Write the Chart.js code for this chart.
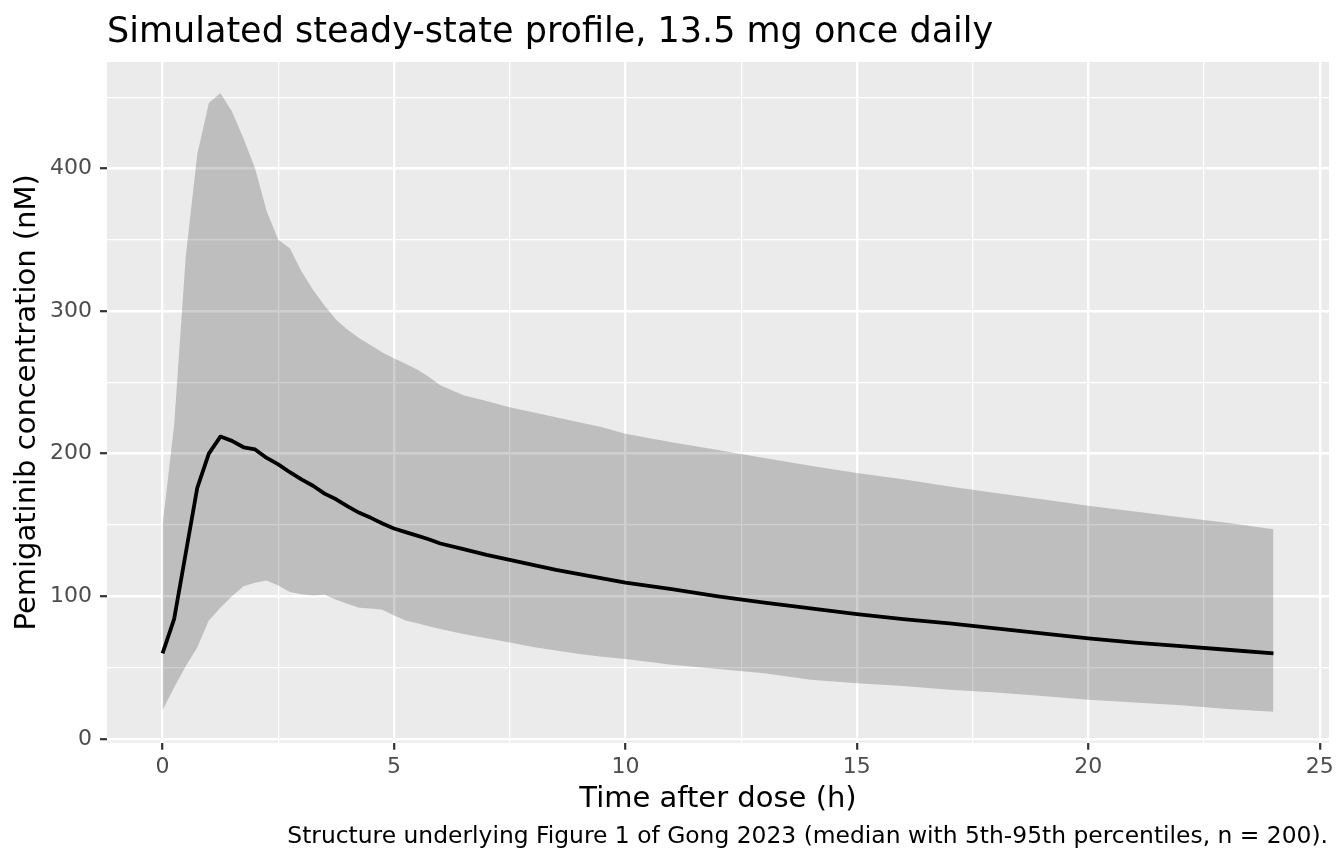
<!DOCTYPE html>
<html>
<head>
<meta charset="utf-8">
<script src="https://cdn.jsdelivr.net/npm/chart.js@4.4.1/dist/chart.umd.min.js"></script>
<style>
  html, body { margin: 0; padding: 0; background: #fff; }
  #wrap { width: 1344px; height: 864px; }
</style>
</head>
<body>
<div id="wrap"><canvas id="pkChart" width="1344" height="864"></canvas></div>
<script>
// time after dose (h)
const timeH = [0, 0.25, 0.5, 0.75, 1, 1.25, 1.5, 1.75, 2, 2.25, 2.5, 2.75, 3, 3.25, 3.5, 3.75,
  4, 4.25, 4.5, 4.75, 5, 5.25, 5.5, 5.75, 6, 6.5, 7, 7.5, 8, 8.5, 9, 9.5, 10,
  11, 12, 13, 14, 15, 16, 17, 18, 19, 20, 21, 22, 23, 24];

// concentration, nM
const median = [60, 84, 130, 176, 200, 212, 209, 204.5, 203, 197, 192.5, 187, 182, 177.5, 172, 168,
  163, 158.5, 155, 151, 147.5, 145, 142.5, 140, 137, 133, 129, 125.5, 122, 118.5, 115.5, 112.5, 109.5,
  105, 100, 95.5, 91.5, 87.5, 84, 81, 77.5, 74, 70.5, 67.5, 65, 62.5, 60];

const p05 = [20, 36, 51, 64, 83, 92, 100, 107, 109.5, 111, 107.5, 103, 101.5, 100.5, 101, 97.5,
  94.5, 92, 91.5, 90.5, 86.5, 83, 81, 79, 77, 73.5, 70.5, 67.5, 64.5, 62, 59.5, 57.5, 56,
  52, 49, 46, 41.5, 39, 37, 34.5, 32.5, 30, 27.5, 25.5, 23.5, 21, 19];

const p95 = [150, 220, 338, 410, 446, 453, 440, 421, 400, 370, 350, 344, 328, 315, 304, 294,
  287, 281, 276, 271, 267, 263, 259, 254, 248, 241, 237, 232.5, 229, 225.5, 222, 218.5, 214,
  208, 202.5, 197, 191.5, 186.5, 182, 177, 172.5, 168, 163.5, 159.5, 155.5, 151.5, 147];

const xTickValues = [0, 2.5, 5, 7.5, 10, 12.5, 15, 17.5, 20, 22.5, 25];
const xTickLabels = ['0', '', '5', '', '10', '', '15', '', '20', '', '25'];
const yTickValues = [0, 50, 100, 150, 200, 250, 300, 350, 400, 450];
const yTickLabels = ['0', '', '100', '', '200', '', '300', '', '400', ''];

const FONT = '"DejaVu Sans", "Noto Sans", sans-serif';

const toPoints = arr => arr.map((v, i) => ({ x: timeH[i], y: v }));

const panelBg = {
  id: 'panelBg',
  beforeDraw(chart) {
    const { ctx, chartArea: a } = chart;
    ctx.save();
    ctx.fillStyle = '#EBEBEB';
    ctx.fillRect(a.left, a.top, a.right - a.left, a.bottom - a.top);
    ctx.restore();
  },
};

const plotText = {
  id: 'plotText',
  afterDraw(chart) {
    const { ctx, chartArea: a } = chart;
    ctx.save();
    ctx.fillStyle = '#000';
    ctx.textBaseline = 'alphabetic';

    ctx.font = '35px ' + FONT;
    ctx.textAlign = 'left';
    ctx.fillText('Simulated steady-state profile, 13.5 mg once daily', a.left, 42);

    ctx.font = '29px ' + FONT;
    ctx.textAlign = 'center';
    ctx.fillText('Time after dose (h)', (a.left + a.right) / 2, 807);

    ctx.font = '23.4px ' + FONT;
    ctx.textAlign = 'right';
    ctx.fillText('Structure underlying Figure 1 of Gong 2023 (median with 5th-95th percentiles, n = 200).', 1328, 843);

    ctx.translate(35, (a.top + a.bottom) / 2);
    ctx.rotate(-Math.PI / 2);
    ctx.font = '29px ' + FONT;
    ctx.textAlign = 'center';
    ctx.fillText('Pemigatinib concentration (nM)', 0, 0);
    ctx.restore();
  },
};

const isMajorX = c => xTickLabels[c.index] !== '';
const isMajorY = c => yTickLabels[c.index] !== '';

new Chart(document.getElementById('pkChart'), {
  type: 'line',
  data: {
    datasets: [
      {
        label: '95th percentile',
        data: toPoints(p95),
        borderColor: 'rgba(0,0,0,0)',
        borderWidth: 0,
        backgroundColor: 'rgba(0,0,0,0.19)',
        fill: 1,
        pointRadius: 0,
        tension: 0,
      },
      {
        label: '5th percentile',
        data: toPoints(p05),
        borderColor: 'rgba(0,0,0,0)',
        borderWidth: 0,
        fill: false,
        pointRadius: 0,
        tension: 0,
      },
      {
        label: 'Median',
        data: toPoints(median),
        borderColor: '#000',
        borderWidth: 3.8,
        fill: false,
        pointRadius: 0,
        tension: 0,
        borderJoinStyle: 'round',
      },
    ],
  },
  options: {
    responsive: false,
    animation: false,
    devicePixelRatio: 1,
    layout: { padding: { top: 62, right: 15, left: 0, bottom: 0 } },
    plugins: {
      legend: { display: false },
      tooltip: { enabled: false },
      title: { display: false },
    },
    scales: {
      x: {
        type: 'linear',
        min: -1.2,
        max: 25.2,
        afterBuildTicks: s => { s.ticks = xTickValues.map(v => ({ value: v })); },
        afterFit: s => { s.height = 121.3; },
        border: { display: false },
        grid: {
          color: '#FFFFFF',
          lineWidth: c => (isMajorX(c) ? 2.4 : 1.2),
          tickLength: 7,
          tickWidth: 2.2,
          tickColor: c => (isMajorX(c) ? '#333333' : 'rgba(0,0,0,0)'),
        },
        ticks: {
          autoSkip: false,
          maxRotation: 0,
          padding: 4,
          color: '#4D4D4D',
          font: { family: FONT, size: 22 },
          callback: (v, i) => xTickLabels[i],
        },
      },
      y: {
        min: -2.7,
        max: 474.7,
        afterBuildTicks: s => { s.ticks = yTickValues.map(v => ({ value: v })); },
        afterFit: s => { s.width = 107; },
        border: { display: false },
        grid: {
          color: '#FFFFFF',
          lineWidth: c => (isMajorY(c) ? 2.4 : 1.2),
          tickLength: 7,
          tickWidth: 2.2,
          tickColor: c => (isMajorY(c) ? '#333333' : 'rgba(0,0,0,0)'),
        },
        ticks: {
          autoSkip: false,
          padding: 8,
          color: '#4D4D4D',
          font: { family: FONT, size: 22 },
          callback: (v, i) => yTickLabels[i],
        },
      },
    },
  },
  plugins: [panelBg, plotText],
});
</script>
</body>
</html>
